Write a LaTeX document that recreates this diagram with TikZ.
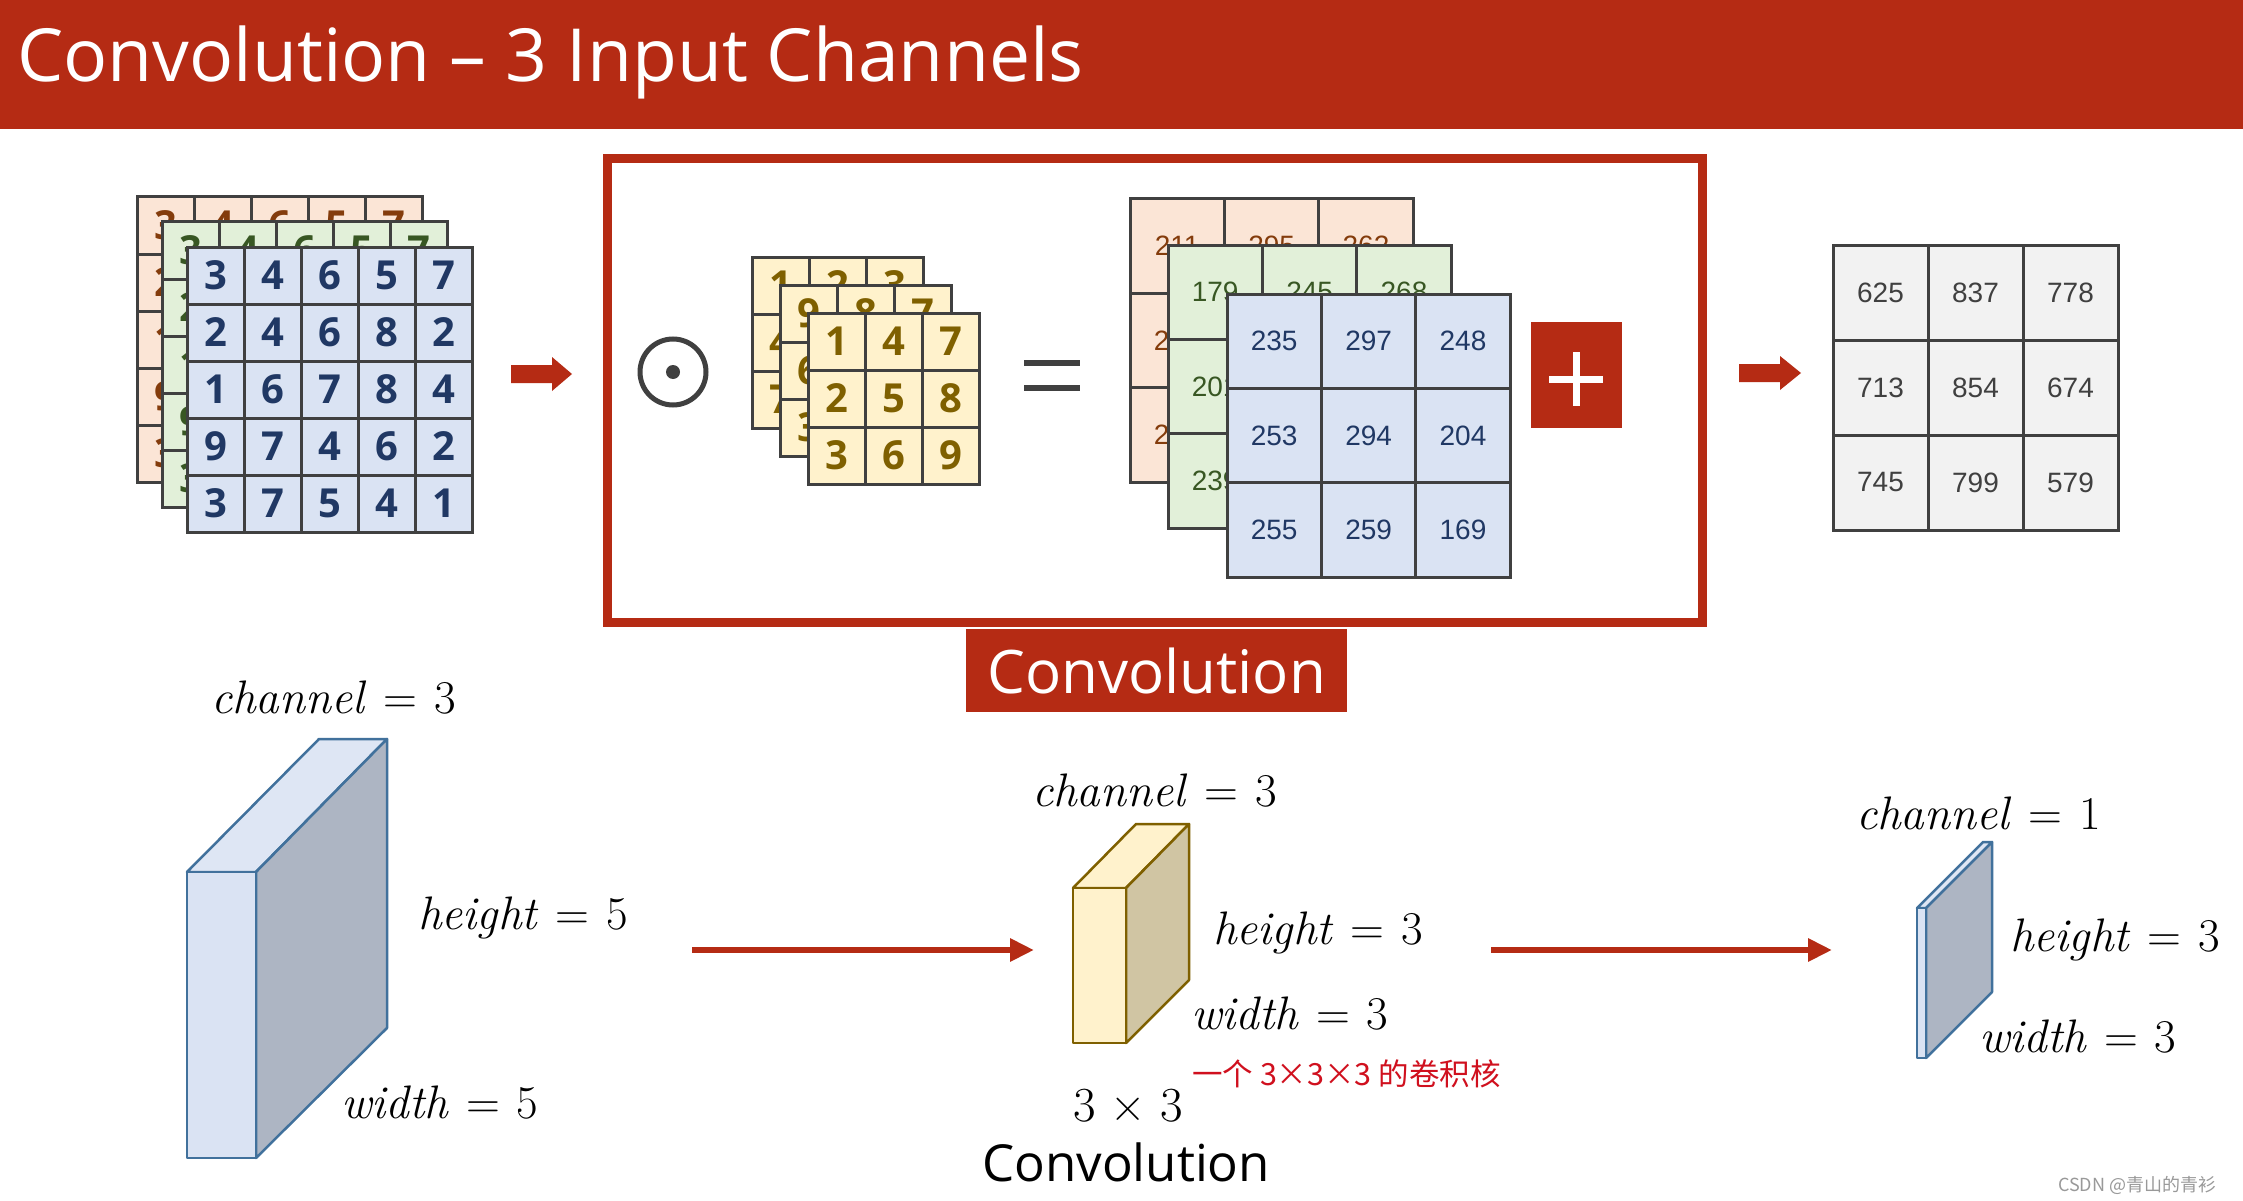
\documentclass[tikz,border=0pt]{standalone}
\usepackage{fontspec}
\newfontfamily\osans{Open Sans}
\newfontfamily\lsans{Liberation Sans}
\newfontfamily\cjk{Noto Sans CJK SC}
\usetikzlibrary{arrows.meta}
\definecolor{rd}{HTML}{B52B14}
\definecolor{gborder}{HTML}{404040}
\definecolor{orf}{HTML}{FBE5D6}\definecolor{ort}{HTML}{843C0C}
\definecolor{grf}{HTML}{E2F0D9}\definecolor{grt}{HTML}{385723}
\definecolor{blf}{HTML}{DAE3F3}\definecolor{blt}{HTML}{203864}
\definecolor{yef}{HTML}{FFF2CC}\definecolor{yet}{HTML}{7F6000}
\definecolor{gyf}{HTML}{F2F2F2}
\definecolor{cubb}{HTML}{41719C}\definecolor{cubside}{HTML}{ADB5C3}\definecolor{cubtop}{HTML}{DEE6F4}
\definecolor{kerb}{HTML}{7F6000}\definecolor{kerside}{HTML}{D0C5A3}
\definecolor{hand}{HTML}{D0101E}
\newcommand\matlayer[8]{%
  \foreach \rowv [count=\r from 0] in {#8} {
    \foreach \v [count=\c from 0] in \rowv {
      \node[draw=gborder, line width=3, fill=#5, text=#6, font=#7, minimum size=#4, inner sep=0]
        (#1-\r-\c) at ({#2+(\c+0.5)*#4},{#3+(\r+0.5)*#4}) {\v};
    }
  }
}
\newcommand\bigdig{\osans\bfseries\fontsize{40}{48}\selectfont}
\newcommand\smdig{\lsans\fontsize{28}{34}\selectfont}
\newcommand\eqs{\hspace{0.36em}=\hspace{0.36em}}
\tikzset{
  lbl/.style={inner sep=0, anchor=west, font=\fontsize{47}{55}\selectfont},
  redarrow/.style={rd, line width=6, -{Triangle[length=24, width=22]}},
  blockarrow/.style={fill=rd, draw=none},
  cubblue/.style={draw=cubb, line width=2.5, line join=round},
  cubyel/.style={draw=kerb, line width=2.5, line join=round}
}
\begin{document}
\begin{tikzpicture}[x=1pt, y=-1pt]
\useasboundingbox (0,0) rectangle (2243,1201);
\fill[white] (0,0) rectangle (2243,1201);
% header
\fill[rd] (0,0) rectangle (2243,129);
\node[inner sep=0, anchor=base west, text=white, font=\osans\fontsize{73.3}{88}\selectfont] (title) at (17,82) {Convolution – 3 Input Channels};

% input layers
\matlayer{ino}{137}{197}{57}{orf}{ort}{\bigdig}{{3,4,6,5,7},{2,4,6,8,2},{1,6,7,8,4},{9,7,4,6,2},{3,7,5,4,1}}
\matlayer{ing}{162}{222}{57}{grf}{grt}{\bigdig}{{3,4,6,5,7},{2,4,6,8,2},{1,6,7,8,4},{9,7,4,6,2},{3,7,5,4,1}}
\matlayer{inb}{187}{247}{57}{blf}{blt}{\bigdig}{{3,4,6,5,7},{2,4,6,8,2},{1,6,7,8,4},{9,7,4,6,2},{3,7,5,4,1}}

% block arrows
\fill[blockarrow] (511,365) -- (552,365) -- (552,357) -- (572,374) -- (552,391) -- (552,383) -- (511,383) -- cycle;
\fill[blockarrow] (1739,364) -- (1780,364) -- (1780,356) -- (1801,373) -- (1780,390) -- (1780,382) -- (1739,382) -- cycle;

% convolution frame
\draw[rd, line width=9] (607,159) rectangle (1702,622);
\node[fill=rd, text=white, minimum width=381, minimum height=83, inner sep=0, font=\osans\fontsize{60}{70}\selectfont] (convlbl) at (1156.5,670.5) {Convolution};

% odot
\draw[gborder, line width=5] (673,372) circle (33);
\fill[gborder] (673,372) circle (7);

% kernel layers
\matlayer{k1}{752}{257}{57}{yef}{yet}{\bigdig}{{1,2,3},{4,5,6},{7,8,9}}
\matlayer{k2}{780}{285}{57}{yef}{yet}{\bigdig}{{9,8,7},{6,5,4},{3,2,1}}
\matlayer{k3}{808}{313}{57}{yef}{yet}{\bigdig}{{1,4,7},{2,5,8},{3,6,9}}

% equals
\draw[gborder, line width=6] (1024,363) -- (1080,363);
\draw[gborder, line width=6] (1024,388) -- (1080,388);

% intermediate layers
\matlayer{mo}{1130}{199}{94.4}{orf}{ort}{\smdig}{{211,295,262},{259,282,214},{251,253,169}}
\matlayer{mg}{1168}{245}{94.4}{grf}{grt}{\smdig}{{179,245,268},{201,278,256},{239,287,241}}
\matlayer{mb}{1227}{294}{94.4}{blf}{blt}{\smdig}{{235,297,248},{253,294,204},{255,259,169}}

% plus box
\fill[rd] (1531,322) rectangle (1622,428);
\draw[white, line width=7] (1549,379) -- (1603,379);
\draw[white, line width=7] (1576,352) -- (1576,406);

% output grid
\matlayer{out}{1833}{245}{95}{gyf}{gborder}{\smdig}{{625,837,778},{713,854,674},{745,799,579}}

% bottom: input cuboid
\filldraw[cubblue, fill=cubtop] (187,872) -- (319,739) -- (387,739) -- (256,872) -- cycle;
\filldraw[cubblue, fill=cubside] (256,872) -- (387,739) -- (387,1028) -- (256,1158) -- cycle;
\filldraw[cubblue, fill=blf] (187,872) rectangle (256,1158);
% kernel cuboid
\filldraw[cubyel, fill=yef] (1073,888) -- (1136,824) -- (1189,824) -- (1126,888) -- cycle;
\filldraw[cubyel, fill=kerside] (1126,888) -- (1189,824) -- (1189,980) -- (1126,1043) -- cycle;
\filldraw[cubyel, fill=yef] (1073,888) rectangle (1126,1043);
% output cuboid
\filldraw[cubblue, fill=cubtop] (1917,908) -- (1983,842) -- (1992,842) -- (1926,908) -- cycle;
\filldraw[cubblue, fill=cubside] (1926,908) -- (1992,842) -- (1992,992) -- (1926,1058) -- cycle;
\filldraw[cubblue, fill=blf] (1917,908) rectangle (1926,1058);

% labels
\node[lbl] (ch5) at (211,698) {\textit{channel}\eqs3};
\node[lbl] (h5) at (418,918) {\textit{height}\eqs5};
\node[lbl] (w5) at (341,1103) {\textit{width}\eqs5};
\node[lbl] (chk) at (1032,791) {\textit{channel}\eqs3};
\node[lbl] (hk) at (1213,933) {\textit{height}\eqs3};
\node[lbl] (wk) at (1191,1014) {\textit{width}\eqs3};
\node[lbl, font=\fontsize{49}{57}\selectfont] (kk) at (1073,1106) {3 × 3};
\node[inner sep=0, anchor=west, font=\osans\fontsize{51}{60}\selectfont] (convb) at (982,1162) {Convolution};
\node[lbl] (ch1) at (1856,813) {\textit{channel}\eqs1};
\node[lbl] (h1) at (2010,940) {\textit{height}\eqs3};
\node[lbl] (w1) at (1979,1037) {\textit{width}\eqs3};
\node[inner sep=0, anchor=west, text=hand, font=\cjk\fontsize{30.5}{38}\selectfont] (note) at (1192,1074) {一个 3×3×3 的卷积核};
\node[inner sep=0, anchor=west, text=black!40, font=\cjk\fontsize{18}{22}\selectfont] (wm) at (2058,1185) {CSDN @青山的青衫};

% arrows
\coordinate (a1s) at (692,950);
\coordinate (a1e) at (1034,950);
\coordinate (a2s) at (1491,950);
\coordinate (a2e) at (1832,950);
\draw[redarrow] (a1s) -- (a1e);
\draw[redarrow] (a2s) -- (a2e);
\end{tikzpicture}
\end{document}
